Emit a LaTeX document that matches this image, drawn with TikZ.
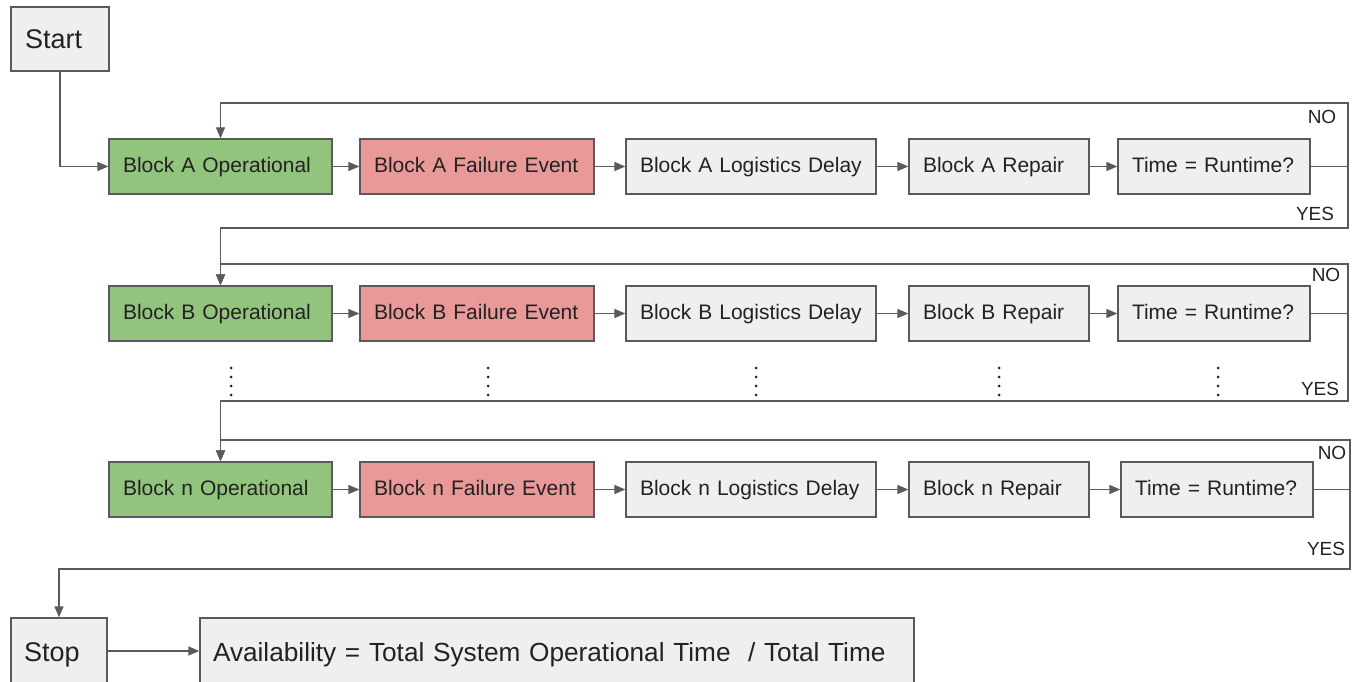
\documentclass[tikz,border=0pt]{standalone}
\usepackage{fontspec}
\setmainfont{Liberation Sans}
\usetikzlibrary{arrows.meta}
\definecolor{opgreen}{HTML}{93C47D}
\definecolor{failred}{HTML}{EA9999}
\definecolor{stepgrey}{HTML}{EFEFEF}
\definecolor{edgegrey}{HTML}{5A5A5A}
\definecolor{inkgrey}{HTML}{222222}

\begin{document}
\begin{tikzpicture}[x=1pt, y=-1pt,
  % boxes: left-aligned text with 14pt padding, width = text width + 28pt
  box/.style={draw=edgegrey, line width=1.3pt, minimum height=55pt,
              inner xsep=14pt, inner ysep=0pt, align=left,
              text=inkgrey, text height=15pt, text depth=4pt,
              font=\fontsize{21}{25}\selectfont},
  opbox/.style={box, fill=opgreen, text width=195pt},
  failbox/.style={box, fill=failred, text width=206pt},
  logbox/.style={box, fill=stepgrey, text width=222pt},
  repbox/.style={box, fill=stepgrey, text width=152pt},
  askbox/.style={box, fill=stepgrey, text width=164pt},
  termbox/.style={box, fill=stepgrey, inner xsep=13pt, text height=20pt, text depth=0pt,
                  font=\fontsize{27}{32}\selectfont},
  link/.style={draw=edgegrey, line width=1.3pt, -{Triangle[length=11pt,width=9pt]}},
  tag/.style={text=inkgrey, inner sep=0pt, font=\fontsize{19}{22}\selectfont},
  dotcol/.style={fill=inkgrey}
]
\useasboundingbox (0,0) rectangle (1352,682);

% start / stop terminals
\node[termbox, minimum height=64pt, text width=70pt, inner xsep=14pt] (start) at (60,39) {Start};
\node[termbox, minimum height=66pt, text width=70pt] (stop) at (59,651) {Stop};
\node[termbox, minimum height=66pt, text width=688pt,
      font=\fontsize{26.2}{31}\selectfont]
  (avail) at (557,651) {\mbox{Availability = Total System Operational Time\ \ / Total Time}};

% row A
\node[opbox]   (opA)   at (220.5,166.5) {Block A Operational};
\node[failbox] (failA) at (477,166.5)   {Block A Failure Event};
\node[logbox]  (logA)  at (751,166.5)   {Block A Logistics Delay};
\node[repbox]  (repA)  at (999,166.5)   {Block A Repair};
\node[askbox]  (timeA) at (1214,166.5)  {Time = Runtime?};

% row B
\node[opbox]   (opB)   at (220.5,313.5) {Block B Operational};
\node[failbox] (failB) at (477,313.5)   {Block B Failure Event};
\node[logbox]  (logB)  at (751,313.5)   {Block B Logistics Delay};
\node[repbox]  (repB)  at (999,313.5)   {Block B Repair};
\node[askbox]  (timeB) at (1214,313.5)  {Time = Runtime?};

% row n
\node[opbox]   (opN)   at (220.5,489.5) {Block n Operational};
\node[failbox] (failN) at (477,489.5)   {Block n Failure Event};
\node[logbox]  (logN)  at (751,489.5)   {Block n Logistics Delay};
\node[repbox]  (repN)  at (999,489.5)   {Block n Repair};
\node[askbox]  (timeN) at (1217,489.5)  {Time = Runtime?};

% chains within each row
\foreach \r in {A,B,N}{
  \draw[link] (op\r) -- (fail\r);
  \draw[link] (fail\r) -- (log\r);
  \draw[link] (log\r) -- (rep\r);
  \draw[link] (rep\r) -- (time\r);
}

% loop corners
\coordinate (noA)  at (1348,103);
\coordinate (yesA) at (1348,228);
\coordinate (noB)  at (1348,264);
\coordinate (yesB) at (1348,401);
\coordinate (noN)  at (1350,440);
\coordinate (yesN) at (1350,569);

\draw[link] (start.south) |- (opA.west);

\draw[link] (timeA.east) -| (noA) -| (opA.north);
\draw[link] (timeA.east) -| (yesA) -| (opB.north);
\draw[link] (timeB.east) -| (noB) -| (opB.north);
\draw[link] (timeB.east) -| (yesB) -| (opN.north);
\draw[link] (timeN.east) -| (noN) -| (opN.north);
\draw[link] (timeN.east) -| (yesN) -| (stop.north);

\draw[link] (stop.east) -- (avail.west);

% branch labels
\node[tag] (noAt)  at (1322,117) {NO};
\node[tag] (yesAt) at (1315,214) {YES};
\node[tag] (noBt)  at (1326,275) {NO};
\node[tag] (yesBt) at (1320,389) {YES};
\node[tag] (noNt)  at (1332,453) {NO};
\node[tag] (yesNt) at (1326,549) {YES};

% vertical ellipses between row B and row n
\foreach \cx in {231,488,756,999,1218}{
  \foreach \cy in {368,377,386,395}{
    \fill[dotcol] (\cx,\cy) circle (1.5pt);
  }
}
\end{tikzpicture}
\end{document}
